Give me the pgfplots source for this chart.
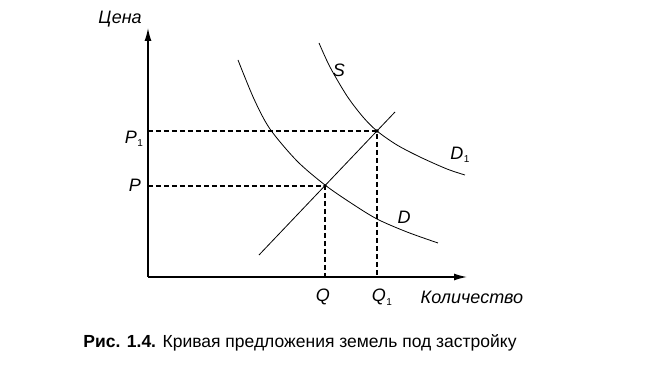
\documentclass[border=0pt]{standalone}
\usepackage{pgfplots}
\pgfplotsset{compat=1.18}
\usetikzlibrary{arrows.meta}
\usepackage{fontspec}
\setmainfont{Liberation Sans}
\newcommand{\sub}[1]{\kern0.5pt\raisebox{-3.5pt}{\fontsize{10}{10}\selectfont\upshape #1}}
\begin{document}
\begin{tikzpicture}
\begin{axis}[
  x=1pt, y=1pt,
  xmin=148, xmax=467, ymin=92, ymax=341,
  axis lines=left,
  axis line style={line width=1.4pt, -{Latex[length=13pt,width=7pt]}},
  xtick=\empty, ytick=\empty,
  clip=false,
]
\path (axis cs:0,0) -- (axis cs:659,369);
% dashed guide lines
\addplot[line width=1.1pt, dash pattern=on 5pt off 3pt] coordinates {(148,238) (377,238) (377,92)};
\addplot[line width=1.1pt, dash pattern=on 5pt off 3pt] coordinates {(148,183) (325,183) (325,92)};
% demand D
\addplot[smooth, line width=0.8pt] coordinates {
 (238,309) (254,270) (270,240) (297,208) (325,184) (351,166) (377,150) (407,137) (438,126)};
% demand D1
\addplot[smooth, line width=0.8pt] coordinates {
 (319,326) (330,302) (347,273) (363,252) (377,238) (397,224) (420,212) (447,200) (465,194)};
% supply S
\addplot[line width=0.8pt] coordinates {(259,114) (395,257)};
% equilibrium points
\addplot[only marks, mark=*, mark size=1.5pt] coordinates {(325,183) (377,238)};
% labels
\node[font=\itshape\fontsize{18}{18}\selectfont] at (axis cs:120,350) {Цена};
\node[font=\itshape\fontsize{18}{18}\selectfont] at (axis cs:472,72) {Количество};
\node[font=\itshape\fontsize{18}{18}\selectfont] at (axis cs:135,184) {P};
\node[font=\itshape\fontsize{18}{18}\selectfont] at (axis cs:134,230) {P\sub{1}};
\node[font=\itshape\fontsize{18}{18}\selectfont] at (axis cs:323,72) {Q};
\node[font=\itshape\fontsize{18}{18}\selectfont] at (axis cs:382,72) {Q\sub{1}};
\node[font=\itshape\fontsize{18}{18}\selectfont] at (axis cs:339,299) {S};
\node[font=\itshape\fontsize{18}{18}\selectfont] at (axis cs:404,152) {D};
\node[font=\itshape\fontsize{18}{18}\selectfont] at (axis cs:460,214) {D\sub{1}};
\node[font=\fontsize{17.5}{17.5}\selectfont] at (axis cs:300,26) {\textbf{Рис. 1.4.} Кривая предложения земель под застройку};
\end{axis}
\end{tikzpicture}
\end{document}
